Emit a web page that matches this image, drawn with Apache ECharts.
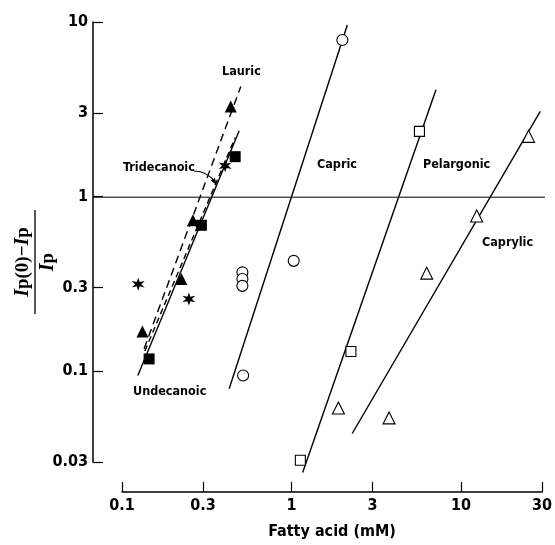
<!DOCTYPE html>
<html>
<head>
<meta charset="utf-8">
<script src="https://cdn.jsdelivr.net/npm/echarts@6/dist/echarts.min.js"></script>
<style>
html, body { margin: 0; padding: 0; background: #fff; }
#chart { width: 555px; height: 545px; }
</style>
</head>
<body>
<div id="chart"></div>
<script>
// tick labels
const xTicks = [0.1, 0.3, 1, 3, 10, 30];
const yTicks = [0.03, 0.1, 0.3, 1, 3, 10];

// measured points [fatty acid mM, (Ip(0)-Ip)/Ip]
const lauricPts = [[0.438, 3.28], [0.262, 0.729], [0.224, 0.336], [0.132, 0.168]];
const undecanoicPts = [[0.465, 1.69], [0.294, 0.683], [0.1445, 0.117]];
const tridecanoicPts = [[0.406, 1.50], [0.1246, 0.314], [0.248, 0.258]];
const capricPts = [[0.513, 0.367], [0.513, 0.336], [0.513, 0.307], [1.03, 0.427], [0.518, 0.094], [1.994, 7.89]];
const pelargonicPts = [[5.68, 2.36], [2.24, 0.129], [1.127, 0.0307]];
const caprylicPts = [[25.0, 2.21], [12.36, 0.772], [6.27, 0.363], [3.76, 0.0537], [1.89, 0.0612]];

// fitted lines (end points)
const lauricFit = [[0.135, 0.134], [0.502, 4.27]];
const tridecanoicFit = [[0.1364, 0.130], [0.465, 2.17]];
const undecanoicFit = [[0.124, 0.094], [0.491, 2.38]];
const capricFit = [[0.4287, 0.0789], [2.133, 9.61]];
const pelargonicFit = [[1.163, 0.0261], [7.11, 4.09]];
const caprylicFit = [[2.28, 0.0437], [29.3, 3.07]];
// reference level, drawn across the full width from the y axis
const unityLine = [[0, 1], [1, 1]];

const FONT = '"Liberation Sans Narrow", "DejaVu Sans Condensed", "Roboto Condensed", sans-serif';
const ASTERISK = 'path://M0,-10 L-2,-3.4 L-8.66,-5 L-4,0 L-8.66,5 L-2,3.4 L0,10 L2,3.4 L8.66,5 L4,0 L8.66,-5 L2,-3.4 Z';

const chart = echarts.init(document.getElementById('chart'));

function fitLine(data, dash) {
    return {
        type: 'line',
        data: data,
        symbol: 'none',
        clip: false,
        silent: true,
        z: 2,
        lineStyle: { color: '#000', width: 1.4, type: dash || 'solid' }
    };
}

function points(data, symbol, size, filled) {
    return {
        type: 'scatter',
        data: data,
        symbol: symbol,
        symbolSize: size,
        z: 3,
        itemStyle: filled
            ? { color: '#000', opacity: 1 }
            : { color: '#fff', borderColor: '#000', borderWidth: 1.1, opacity: 1 }
    };
}

function note(text, x, y) {
    return {
        type: 'text',
        left: x,
        top: y,
        style: { text: text, font: 'bold 12.5px ' + FONT, fill: '#000' }
    };
}

const labelStyle = {
    margin: 6,
    color: '#000',
    fontFamily: FONT,
    fontWeight: 'bold',
    fontSize: 16,
    formatter: function (v) { return String(+v.toPrecision(3)); }
};

const option = {
    animation: false,
    grid: [
        { left: 122, right: 10, top: 22, bottom: 81 },
        { left: 93, right: 10, top: 22, bottom: 81 }
    ],
    xAxis: [
        {
            type: 'log',
            gridIndex: 0,
            logBase: 10,
            min: 0.1,
            max: 30,
            offset: 30,
            name: 'Fatty acid (mM)',
            nameLocation: 'middle',
            nameGap: 32,
            nameTextStyle: { color: '#000', fontFamily: FONT, fontWeight: 'bold', fontSize: 16 },
            axisLine: { show: true, lineStyle: { color: '#000', width: 1.5 } },
            axisTick: { show: true, inside: true, length: 10, customValues: xTicks, lineStyle: { color: '#000', width: 1.2 } },
            axisLabel: Object.assign({ customValues: xTicks }, labelStyle),
            minorTick: { show: false },
            splitLine: { show: false }
        },
        {
            type: 'value',
            gridIndex: 1,
            min: 0,
            max: 1,
            show: false
        }
    ],
    yAxis: [
        {
            type: 'log',
            gridIndex: 0,
            logBase: 10,
            min: 0.03,
            max: 10,
            offset: 29,
            axisLine: { show: true, lineStyle: { color: '#000', width: 1.5 } },
            axisTick: { show: true, inside: true, length: 10, customValues: yTicks, lineStyle: { color: '#000', width: 1.2 } },
            axisLabel: Object.assign({ customValues: yTicks }, labelStyle, { margin: 5 }),
            splitLine: { show: false }
        },
        {
            type: 'log',
            gridIndex: 1,
            logBase: 10,
            min: 0.03,
            max: 10,
            show: false
        }
    ],
    series: [
        {
            type: 'line',
            xAxisIndex: 1,
            yAxisIndex: 1,
            data: unityLine,
            symbol: 'none',
            silent: true,
            z: 1,
            lineStyle: { color: '#000', width: 1 }
        },
        fitLine(lauricFit, [8, 5]),
        fitLine(tridecanoicFit, [6, 4]),
        fitLine(undecanoicFit),
        fitLine(capricFit),
        fitLine(pelargonicFit),
        fitLine(caprylicFit),
        points(lauricPts, 'triangle', 12, true),
        points(undecanoicPts, 'rect', 11, true),
        points(tridecanoicPts, ASTERISK, 13, true),
        points(capricPts, 'circle', 11, false),
        points(pelargonicPts, 'rect', 10, false),
        points(caprylicPts, 'triangle', 12, false)
    ],
    graphic: [
        note('Lauric', 222, 65),
        note('Tridecanoic', 123, 161),
        note('Undecanoic', 133, 385),
        note('Capric', 317, 158),
        note('Pelargonic', 423, 158),
        note('Caprylic', 482, 236),
        {
            type: 'bezierCurve',
            shape: { x1: 194, y1: 171, cpx1: 207, cpy1: 171, x2: 215, y2: 182 },
            style: { stroke: '#000', lineWidth: 1.1, fill: null }
        },
        {
            type: 'polygon',
            shape: { points: [[216.5, 185], [210.6, 180.6], [215, 178]] },
            style: { fill: '#000' }
        },
        {
            type: 'group',
            x: 35,
            y: 262,
            rotation: Math.PI / 2,
            children: [
                {
                    type: 'text',
                    x: 0,
                    y: -12,
                    style: {
                        text: '{i|I}{n|p(0)\u2212}{i|I}{n|p}',
                        align: 'center',
                        verticalAlign: 'middle',
                        rich: {
                            i: { font: 'italic bold 20px "Liberation Serif", serif', fill: '#000' },
                            n: { font: 'bold 19px "Liberation Serif", serif', fill: '#000' }
                        }
                    }
                },
                {
                    type: 'line',
                    shape: { x1: -52, y1: 0, x2: 52, y2: 0 },
                    style: { stroke: '#000', lineWidth: 1.3 }
                },
                {
                    type: 'text',
                    x: 0,
                    y: 13,
                    style: {
                        text: '{i|I}{n|p}',
                        align: 'center',
                        verticalAlign: 'middle',
                        rich: {
                            i: { font: 'italic bold 20px "Liberation Serif", serif', fill: '#000' },
                            n: { font: 'bold 19px "Liberation Serif", serif', fill: '#000' }
                        }
                    }
                }
            ]
        }
    ]
};

chart.setOption(option);

window.addEventListener('resize', function () {
    chart.resize();
});
</script>
</body>
</html>
